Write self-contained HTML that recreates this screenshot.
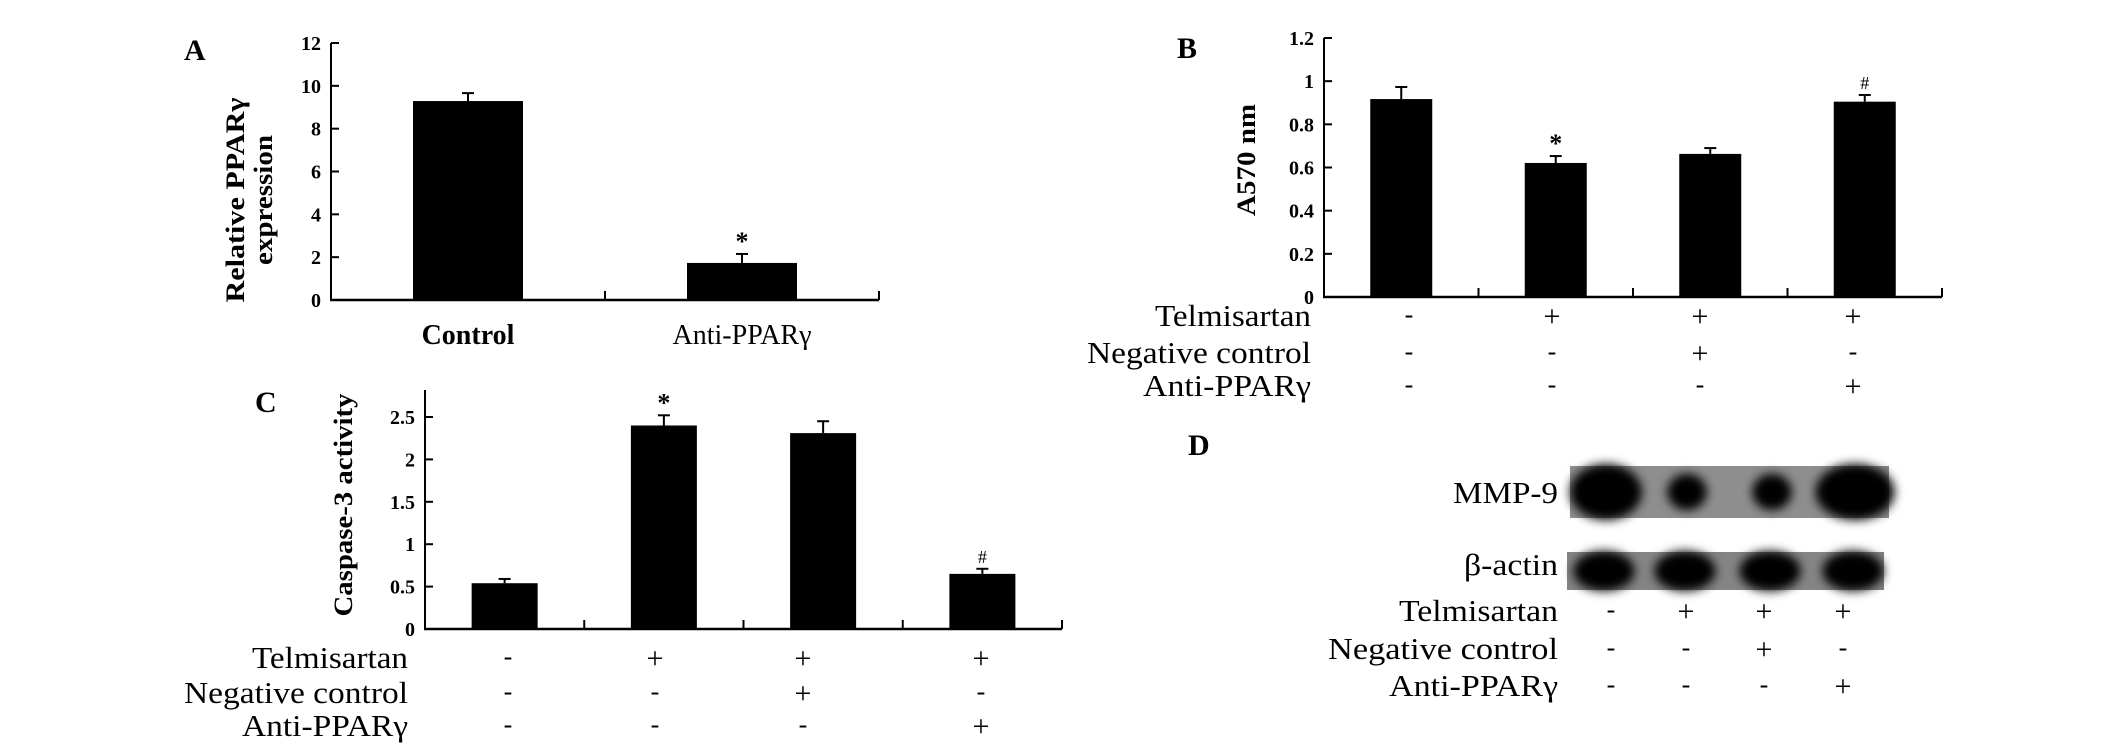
<!DOCTYPE html>
<html><head><meta charset="utf-8"><style>
html,body{margin:0;padding:0;background:#fff;}
svg{display:block;font-family:"Liberation Serif",serif;}
</style></head><body>
<svg id="fig" width="2126" height="754" viewBox="0 0 2126 754" xmlns="http://www.w3.org/2000/svg">
<defs><filter id="blur" x="-50%" y="-50%" width="200%" height="200%"><feGaussianBlur stdDeviation="5"/></filter>
<filter id="blur2" x="-10%" y="-10%" width="120%" height="120%"><feGaussianBlur stdDeviation="1.5"/></filter></defs>
<g id="root"></g>
</svg>
<script>
// Panel A data
const catsA = ["Control", "Anti-PPARγ"];
const valsA = [9.29, 1.73];
const errA = [9.66, 2.15];
const ticksA = [0, 2, 4, 6, 8, 10, 12];
const marksA = ["", "*"];
// Panel B data
const valsB = [0.917, 0.621, 0.663, 0.905];
const errB = [0.973, 0.653, 0.69, 0.936];
const ticksB = [0, 0.2, 0.4, 0.6, 0.8, 1, 1.2];
const tickLabelsB = ["0", "0.2", "0.4", "0.6", "0.8", "1", "1.2"];
const marksB = ["", "*", "", "#"];
// Panel C data
const valsC = [0.54, 2.40, 2.31, 0.65];
const errC = [0.59, 2.52, 2.45, 0.71];
const ticksC = [0, 0.5, 1, 1.5, 2, 2.5];
const tickLabelsC = ["0", "0.5", "1", "1.5", "2", "2.5"];
const marksC = ["", "*", "", "#"];
// treatment rows
const rowNames = ["Telmisartan", "Negative control", "Anti-PPARγ"];
const rowSigns = [["-", "+", "+", "+"], ["-", "-", "+", "-"], ["-", "-", "-", "+"]];
// Panel D band intensities (relative size)
const mmpBands = [1.0, 0.55, 0.55, 1.1];
const actinBands = [0.9, 0.9, 0.9, 0.9];

const NS = "http://www.w3.org/2000/svg";
const root = document.getElementById("root");
function mk(tag, attrs, parent, text) {
  const e = document.createElementNS(NS, tag);
  for (const k in attrs) e.setAttribute(k, attrs[k]);
  if (text !== undefined) e.textContent = text;
  (parent || root).appendChild(e);
  return e;
}
function line(x1, y1, x2, y2, w, p) { return mk("line", {x1, y1, x2, y2, stroke: "#000", "stroke-width": w || 2}, p); }

function panel(cfg) {
  const g = mk("g", {});
  
  
  const sy = v => cfg.y0 - v * cfg.pxPerUnit;
  const n = cfg.vals.length;
  const slot = (cfg.xEnd - cfg.x0) / n;
  // axes
  const ya = line(cfg.x0, cfg.yTop, cfg.x0, cfg.y0 + 1, 2, g);
  
  
  const xa = line(cfg.x0 - 1, cfg.y0, cfg.xEnd, cfg.y0, 2.5, g);
  
  
  for (let i = 1; i <= n; i++) line(cfg.x0 + slot * i, cfg.y0, cfg.x0 + slot * i, cfg.y0 - 9, 2, g);
  cfg.ticks.forEach((t, i) => {
    line(cfg.x0, sy(t), cfg.x0 + 8, sy(t), 2, g);
    const tl = mk("text", {x: cfg.x0 - 10, y: sy(t) + 7, "text-anchor": "end", "font-size": 20, "font-weight": "bold"}, g, cfg.tickLabels[i]);
    
    
  });
  cfg.vals.forEach((v, i) => {
    const cx = cfg.x0 + slot * (i + 0.5);
    const bw = cfg.barW;
    const r = mk("rect", {x: cx - bw / 2, y: sy(v), width: bw, height: cfg.y0 - sy(v), fill: "#000"}, g);
    
    
    const ey = sy(cfg.errs[i]);
    line(cx, sy(v), cx, ey, 2, g);
    line(cx - 6, ey, cx + 6, ey, 2, g);
    if (cfg.marks[i]) {
      const m = mk("text", {x: cx, y: ey - (cfg.marks[i] === "*" ? 4 : 6), "text-anchor": "middle", "font-size": cfg.marks[i] === "*" ? 26 : 18, "font-weight": cfg.marks[i] === "*" ? "bold" : "normal"}, g, cfg.marks[i]);
      
      
    }
  });
  return {g, slot};
}

function title(txt, x, y, size, name) {
  const t = mk("text", {x, y, "font-size": size, "font-weight": "bold"}, root, txt);
  
  
}
function ytitle(txt, x, y, len, name) {
  const t = mk("text", {x: 0, y: 0, transform: `translate(${x},${y}) rotate(-90)`, "text-anchor": "middle", "font-size": 26, "font-weight": "bold", textLength: len, lengthAdjust: "spacingAndGlyphs"}, root, txt);
  
  
}
function rows(labelRight, ys, cols, widths, prefix) {
  rowNames.forEach((nm, r) => {
    const t = mk("text", {x: labelRight - widths[r], y: ys[r] + 11, "font-size": 31, textLength: widths[r], lengthAdjust: "spacingAndGlyphs"}, root, nm);
    
    
    rowSigns[r].forEach((s, c) => {
      const sg = mk("text", {x: cols[c], y: ys[r] + (s === "+" ? 11 : 8), "text-anchor": "middle", "font-size": s === "+" ? 30 : 26}, root, s);
      
      
    });
  });
}

// Panel A
title("A", 184, 60, 30, "panel-a-label");
panel({name: "panel-a-chart", x0: 331, xEnd: 879, y0: 300, yTop: 43, pxPerUnit: 257 / 12, vals: valsA, errs: errA, ticks: ticksA, tickLabels: ticksA.map(String), marks: marksA, barW: 110});
ytitle("Relative PPARγ", 244, 200, 205, "y-axis-title-a-line1");
ytitle("expression", 272, 200, 130, "y-axis-title-a-line2");
catsA.forEach((c, i) => {
  const cx = 331 + (879 - 331) / 2 * (i + 0.5);
  const t = mk("text", {x: cx, y: 344, "text-anchor": "middle", "font-size": 28, "font-weight": i === 0 ? "bold" : "normal"}, root, c);
  
  
});

// Panel B
title("B", 1177, 58, 30, "panel-b-label");
panel({name: "panel-b-chart", x0: 1324, xEnd: 1942, y0: 297, yTop: 38, pxPerUnit: 259 / 1.2, vals: valsB, errs: errB, ticks: ticksB, tickLabels: tickLabelsB, marks: marksB, barW: 62});
ytitle("A570 nm", 1255, 160, 112, "y-axis-title-b");
rows(1311, [315, 352, 385], [1409, 1552, 1700, 1853], [156, 224, 168], "b");

// Panel C
title("C", 255, 412, 30, "panel-c-label");
panel({name: "panel-c-chart", x0: 425, xEnd: 1062, y0: 629, yTop: 390, pxPerUnit: 84.8, vals: valsC, errs: errC, ticks: ticksC, tickLabels: tickLabelsC, marks: marksC, barW: 66});
ytitle("Caspase-3 activity", 352, 505, 223, "y-axis-title-c");
rows(408, [657, 692, 725], [508, 655, 803, 981], [156, 224, 166], "c");

// Panel D
title("D", 1188, 455, 30, "panel-d-label");
const lanes = [1606, 1687, 1772, 1855];
const mmp = mk("g", {});


mk("rect", {x: 1570, y: 466, width: 319, height: 52, fill: "#8e8e8e"}, mmp);
mmpBands.forEach((b, i) => {
  const e = mk("ellipse", {cx: lanes[i], cy: 492, rx: 36 * b, ry: 28 * Math.min(1, b + 0.1), fill: "#000", filter: "url(#blur)"}, mmp);
  
  
});
const act = mk("g", {});


mk("rect", {x: 1567, y: 552, width: 317, height: 38, fill: "#858585"}, act);
actinBands.forEach((b, i) => {
  const e = mk("ellipse", {cx: lanes[i] - 2, cy: 571, rx: 34 * b, ry: 20, fill: "#000", filter: "url(#blur)"}, act);
  
  
});
[["MMP-9", 503, 105, "mmp9-label"], ["β-actin", 575, 94, "beta-actin-label"]].forEach(([t, y, w, nm]) => {
  const e = mk("text", {x: 1558 - w, y, "font-size": 31, textLength: w, lengthAdjust: "spacingAndGlyphs"}, root, t);
  
  
});
rows(1558, [610, 648, 685], [1611, 1686, 1764, 1843], [159, 230, 169], "d");
</script>
</body></html>
